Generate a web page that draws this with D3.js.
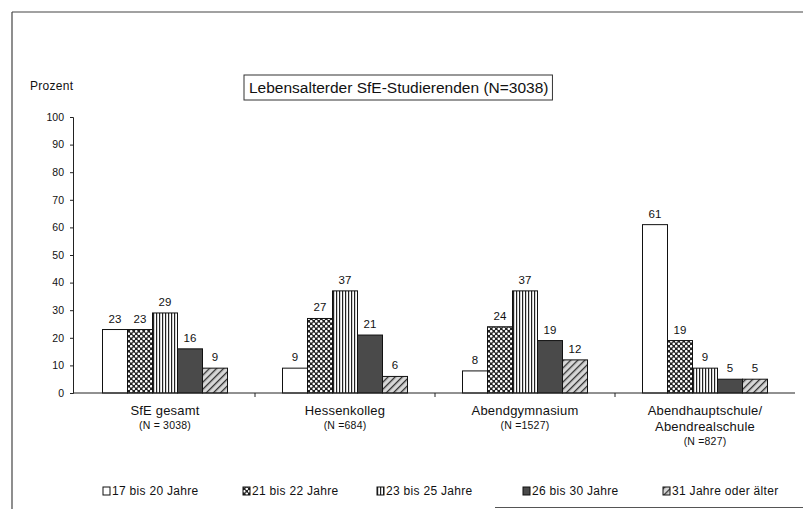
<!DOCTYPE html>
<head>
    <meta charset="utf-8">
    <title>Lebensalter der SfE-Studierenden</title>
    <script src="https://cdn.jsdelivr.net/npm/d3@7"></script>
    <style>
        body { margin: 0; background: #fff; }
        svg { display: block; font-family: 'Liberation Sans', Arial, sans-serif; }
    </style>
</head>
<body>
    <svg></svg>
</body>

<script>
    // Data
    var categories = ['SfE gesamt', 'Hessenkolleg', 'Abendgymnasium', 'Abendhauptschule/\nAbendrealschule'];
    var groupN = ['(N = 3038)', '(N =684)', '(N =1527)', '(N =827)'];
    var series = ['17 bis 20 Jahre', '21 bis 22 Jahre', '23 bis 25 Jahre', '26 bis 30 Jahre', '31 Jahre oder älter'];
    var values = [
        [23, 23, 29, 16, 9],
        [9, 27, 37, 21, 6],
        [8, 24, 37, 19, 12],
        [61, 19, 9, 5, 5]
    ];
    var yTicks = [0, 10, 20, 30, 40, 50, 60, 70, 80, 90, 100];
    var title = 'Lebensalterder SfE-Studierenden (N=3038)';

    var vWidth = 803;
    var vHeight = 509;

    var svg = d3.select('svg')
        .attr('width', vWidth).attr('height', vHeight);

    // Fill patterns for the five age groups
    var defs = svg.append('defs');

    var p2 = defs.append('pattern').attr('id', 'pat1')
        .attr('patternUnits', 'userSpaceOnUse').attr('width', 5).attr('height', 5);
    p2.append('rect').attr('width', 5).attr('height', 5).attr('fill', '#222');
    p2.append('circle').attr('cx', 1.25).attr('cy', 1.25).attr('r', 1.3).attr('fill', '#fff');
    p2.append('circle').attr('cx', 3.75).attr('cy', 3.75).attr('r', 1.3).attr('fill', '#fff');

    var p3 = defs.append('pattern').attr('id', 'pat2')
        .attr('patternUnits', 'userSpaceOnUse').attr('width', 3).attr('height', 6);
    p3.append('rect').attr('width', 3).attr('height', 6).attr('fill', '#fff');
    p3.append('rect').attr('width', 1.2).attr('height', 6).attr('fill', '#222');

    var p5 = defs.append('pattern').attr('id', 'pat4')
        .attr('patternUnits', 'userSpaceOnUse').attr('width', 5).attr('height', 5)
        .attr('patternTransform', 'rotate(45)');
    p5.append('rect').attr('width', 5).attr('height', 5).attr('fill', '#d6d6d6');
    p5.append('rect').attr('width', 1.3).attr('height', 5).attr('fill', '#333');

    var vFills = ['#fff', 'url(#pat1)', 'url(#pat2)', '#4a4a4a', 'url(#pat4)'];

    // Frame of the scanned page
    svg.append('line').attr('x1', 12).attr('x2', 803).attr('y1', 12).attr('y2', 12)
        .attr('stroke', '#444').attr('stroke-width', 1.2);
    svg.append('line').attr('x1', 12).attr('x2', 12).attr('y1', 12).attr('y2', 509)
        .attr('stroke', '#444').attr('stroke-width', 1.2);
    svg.append('line').attr('x1', 495).attr('x2', 803).attr('y1', 507.5).attr('y2', 507.5)
        .attr('stroke', '#555').attr('stroke-width', 1.2);

    // Scales
    var x0 = d3.scaleBand().domain(categories).range([75, 795]);
    var x1 = d3.scaleBand().domain(series)
        .range([(x0.bandwidth() - 125) / 2, (x0.bandwidth() + 125) / 2]);
    var y = d3.scaleLinear().domain([0, 100]).range([393, 117]);

    // Y axis
    var yAxis = svg.append('g')
        .attr('transform', 'translate(73,0)')
        .call(d3.axisLeft(y).tickValues(yTicks).tickSize(3).tickPadding(6));
    yAxis.selectAll('text').style('font-size', '10.5px').attr('fill', '#111')
        .style('font-family', "'Liberation Sans', Arial, sans-serif");
    yAxis.select('.domain').attr('stroke', '#222');
    yAxis.selectAll('.tick line').attr('stroke', '#222');

    svg.append('text').attr('x', 30).attr('y', 90)
        .style('font-size', '12px').style('letter-spacing', '0.3px')
        .attr('fill', '#111').text('Prozent');

    // Bars
    var groups = svg.selectAll('g.group').data(values).enter().append('g')
        .attr('class', 'group')
        .attr('transform', function (d, i) { return 'translate(' + x0(categories[i]) + ',0)'; });

    groups.selectAll('rect').data(function (d) { return d; }).enter().append('rect')
        .attr('x', function (d, j) { return x1(series[j]); })
        .attr('y', function (d) { return y(d); })
        .attr('width', x1.bandwidth())
        .attr('height', function (d) { return y(0) - y(d); })
        .attr('fill', function (d, j) { return vFills[j]; })
        .attr('stroke', '#111').attr('stroke-width', 1);

    groups.selectAll('text.val').data(function (d) { return d; }).enter().append('text')
        .attr('class', 'val')
        .attr('x', function (d, j) { return x1(series[j]) + x1.bandwidth() / 2; })
        .attr('y', function (d) { return y(d) - 7; })
        .attr('text-anchor', 'middle')
        .style('font-size', '11.5px').attr('fill', '#111')
        .text(function (d) { return d; });

    // X axis with group separators
    svg.append('line').attr('x1', 73).attr('x2', 795).attr('y1', 393).attr('y2', 393)
        .attr('stroke', '#222');
    svg.selectAll('line.sep').data(categories.slice(1)).enter().append('line')
        .attr('class', 'sep')
        .attr('x1', function (d) { return x0(d); }).attr('x2', function (d) { return x0(d); })
        .attr('y1', 393).attr('y2', 397).attr('stroke', '#222');

    // Category labels
    categories.forEach(function (c, i) {
        var cx = x0(c) + x0.bandwidth() / 2;
        var lines = c.split('\n');
        var t = svg.append('text').attr('text-anchor', 'middle')
            .style('font-size', '13px').style('letter-spacing', '0.2px').attr('fill', '#111');
        lines.forEach(function (l, k) {
            t.append('tspan').attr('x', cx).attr('y', 415 + k * 16).text(l);
        });
        svg.append('text').attr('x', cx).attr('y', 415 + (lines.length - 1) * 16 + 14)
            .attr('text-anchor', 'middle')
            .style('font-size', '10.5px').style('letter-spacing', '0.2px')
            .attr('fill', '#111').text(groupN[i]);
    });

    // Title box
    var tBox = svg.append('g');
    var tText = tBox.append('text').attr('x', 249).attr('y', 93)
        .style('font-size', '15.5px').attr('fill', '#111').text(title);
    var bb = tText.node().getBBox();
    tBox.insert('rect', 'text')
        .attr('x', 244).attr('y', 75)
        .attr('width', bb.width + 9).attr('height', 25)
        .attr('fill', '#fff').attr('stroke', '#333').attr('stroke-width', 1);

    // Legend
    var legendX = [103, 243, 377, 523, 663];
    var legend = svg.selectAll('g.legend').data(series).enter().append('g')
        .attr('class', 'legend')
        .attr('transform', function (d, i) { return 'translate(' + legendX[i] + ',495)'; });
    legend.append('rect')
        .attr('x', 0).attr('y', -8).attr('width', 7).attr('height', 8)
        .attr('fill', function (d, i) { return vFills[i]; })
        .attr('stroke', '#111').attr('stroke-width', 1);
    legend.append('text')
        .attr('x', 9).attr('y', 0)
        .style('font-size', '12px').style('letter-spacing', '0.3px').attr('fill', '#111')
        .text(function (d) { return d; });
</script>
